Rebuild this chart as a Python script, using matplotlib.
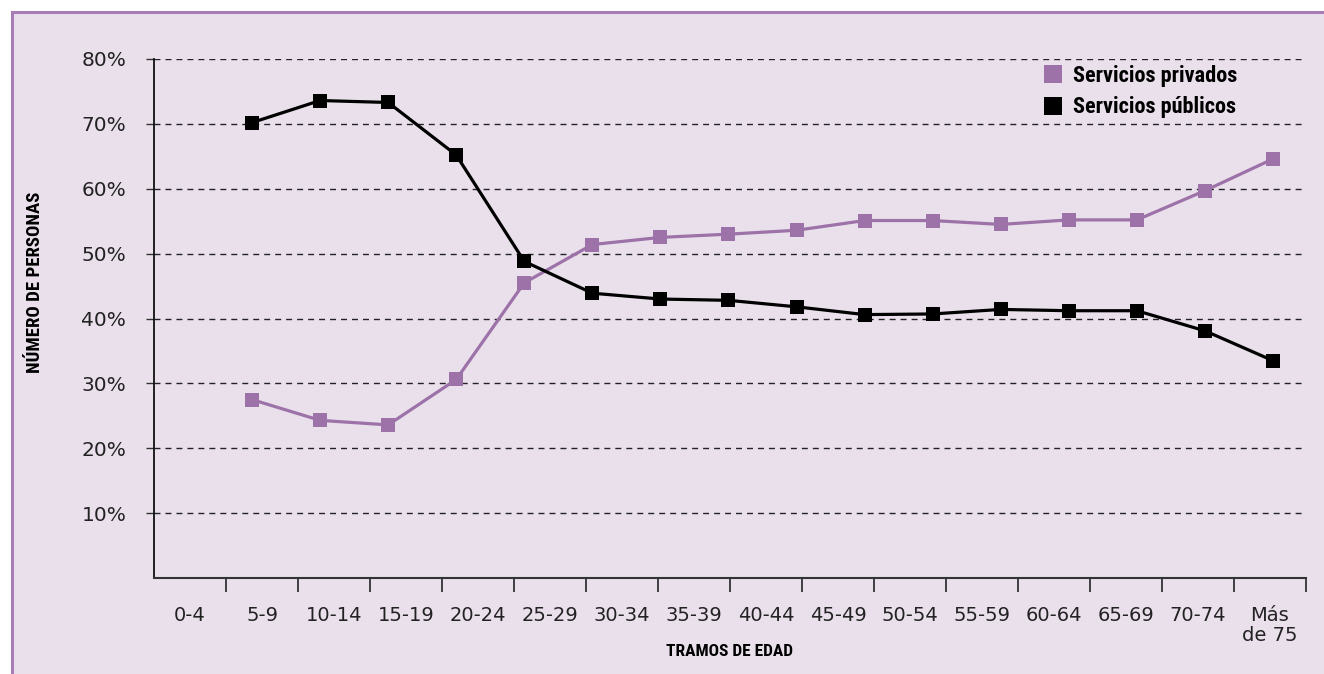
import matplotlib
matplotlib.use("Agg")
import matplotlib.pyplot as plt
from matplotlib.patches import Rectangle
from matplotlib.lines import Line2D
from matplotlib.ticker import FixedLocator, FuncFormatter
from matplotlib import font_manager

# ---- data ----
categories = ["0-4", "5-9", "10-14", "15-19", "20-24", "25-29", "30-34", "35-39",
              "40-44", "45-49", "50-54", "55-59", "60-64", "65-69", "70-74", "Más\nde 75"]
privados = [27.5, 24.3, 23.6, 30.6, 45.5, 51.4, 52.5, 53.0, 53.6, 55.1, 55.1, 54.5,
            55.2, 55.2, 59.7, 64.6]
publicos = [70.2, 73.6, 73.3, 65.2, 48.8, 43.9, 43.0, 42.8, 41.8, 40.6, 40.7, 41.4,
            41.2, 41.2, 38.1, 33.5]
yticks = [10, 20, 30, 40, 50, 60, 70, 80]
series_names = ["Servicios privados", "Servicios públicos"]

BG = "#eae0ec"
BORDER = "#a77fb4"
PURPLE = "#9c72a8"
BLACK = "#000000"

available = {f.name for f in font_manager.fontManager.ttflist}
COND = "DejaVu Sans"
for cand in ["Liberation Sans Narrow", "Roboto Condensed", "DejaVu Sans Condensed",
             "Open Sans Condensed", "Noto Sans Condensed", "Roboto"]:
    if cand in available:
        COND = cand
        break

W, H = 1324, 674
fig = plt.figure(figsize=(W / 100, H / 100), dpi=100)
fig.patch.set_facecolor("white")
frame = Rectangle((11.5 / W, -0.05), 1.2, (H - 11.5) / H + 0.05,
                  transform=fig.transFigure, facecolor=BG, edgecolor=BORDER,
                  linewidth=2.2, zorder=-10)
fig.patches.append(frame)

left, right, top, bottom = 154, 1306, 59, 578
ax = fig.add_axes([left / W, (H - bottom) / H, (right - left) / W, (bottom - top) / H])
ax.set_facecolor("none")

n = len(categories)
ax.set_xlim(-0.5, n - 0.5)
ax.set_ylim(0, 80)
ax.xaxis.set_major_locator(FixedLocator(list(range(n))))
ax.set_xticklabels(categories, fontsize=14, family="DejaVu Sans", color="#222222",
                   linespacing=1.05)
ax.xaxis.set_minor_locator(FixedLocator([i + 0.5 for i in range(n)]))
ax.tick_params(axis="x", which="major", length=0, pad=20)
ax.tick_params(axis="x", which="minor", length=10, width=1.3, color="#333333")

ax.yaxis.set_major_locator(FixedLocator(yticks))
ax.yaxis.set_major_formatter(FuncFormatter(lambda v, p: f"{int(round(v))}%"))
ax.tick_params(axis="y", which="major", length=6, width=1.0, color="#333333",
               pad=14, labelsize=14.5, labelcolor="#222222")
for lab in ax.get_yticklabels():
    lab.set_family("DejaVu Sans")

ax.grid(axis="y", color="#222222", linewidth=1.0, linestyle=(0, (4.3, 3.6)))
ax.set_axisbelow(True)
for s in ["top", "right"]:
    ax.spines[s].set_visible(False)
ax.spines["left"].set_color("#111111")
ax.spines["left"].set_linewidth(1.3)
ax.spines["bottom"].set_color("#333333")
ax.spines["bottom"].set_linewidth(1.5)

# data drawn on a twin x scale (points are offset from the category labels in the original)
ax2 = ax.twiny()
ax2.set_xlim(-1.44, n - 1 + 0.485)
ax2.set_ylim(0, 80)
ax2.set_facecolor("none")
for s in ax2.spines.values():
    s.set_visible(False)
ax2.set_xticks([])
xs = list(range(n))
ax2.plot(xs, privados, color=PURPLE, linewidth=2.3, marker="s", markersize=10.5,
         markeredgewidth=0, zorder=3)
ax2.plot(xs, publicos, color=BLACK, linewidth=2.3, marker="s", markersize=10.5,
         markeredgewidth=0, zorder=4)

handles = [Line2D([], [], linestyle="none", marker="s", markersize=12.5, color=PURPLE,
                  markeredgewidth=0),
           Line2D([], [], linestyle="none", marker="s", markersize=12.5, color=BLACK,
                  markeredgewidth=0)]
leg = ax2.legend(handles, series_names, loc="upper left",
                 bbox_to_anchor=((1029 - left) / (right - left), 1 - (54 - top) / (bottom - top)),
                 frameon=False, borderpad=0, handletextpad=0.3, handlelength=1.2,
                 labelspacing=0.42,
                 prop={"family": [COND, "DejaVu Sans"], "weight": "bold", "size": 16})

fig.text(35 / W, 1 - 282 / H, "NÚMERO DE PERSONAS", rotation=90, ha="center", va="center",
         fontsize=13.5, fontweight="bold", family=[COND, "DejaVu Sans"])
fig.text(729 / W, 1 - 651 / H, "TRAMOS DE EDAD", ha="center", va="center",
         fontsize=12.5, fontweight="bold", family=[COND, "DejaVu Sans"])

fig.savefig("out.png", dpi=100, facecolor=fig.get_facecolor())
